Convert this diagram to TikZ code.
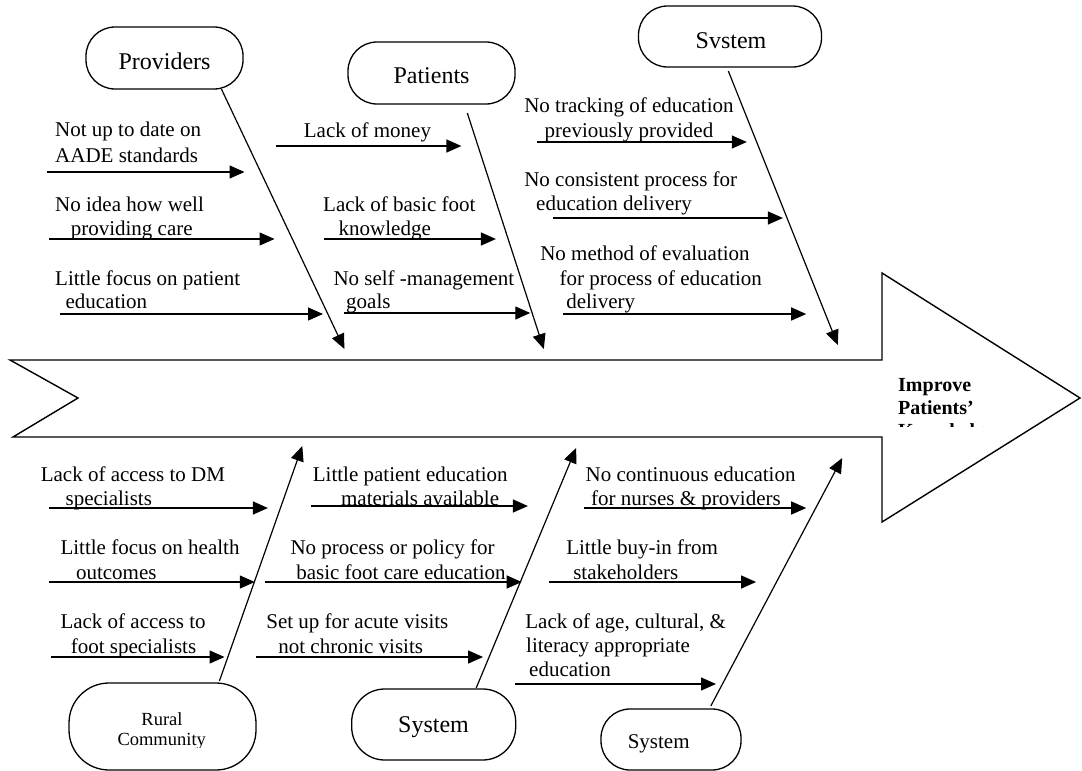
\documentclass[tikz,border=0pt]{standalone}
\usepackage{fontspec}
\setmainfont{Liberation Serif}
\usetikzlibrary{arrows.meta}
\begin{document}
\begin{tikzpicture}[x=1pt,y=-1pt,
  lbl/.style={inner sep=0pt, anchor=base west, font=\fontsize{21}{25}\selectfont},
  catbox/.style={draw, line width=1.3pt, inner sep=0pt},
  cattext/.style={inner sep=0pt, anchor=base, font=\fontsize{24}{28}\selectfont},
  cause/.style={line width=1.3pt, -{Triangle[length=15pt,width=13pt]}},
  bone/.style={line width=1.2pt, -{Triangle[length=15pt,width=13pt]}},
  body/.style={draw, line width=1.4pt, line join=miter}
]
\useasboundingbox (0,0) rectangle (1082,771);

% fish body / effect arrow
\draw[body] (10,360) -- (882,360) -- (882,273) -- (1080,398) -- (882,522)
  -- (882,437) -- (13,437) -- (78,398) -- cycle;
\begin{scope}
  \clip (890,360) rectangle (1000,426);
  \node[inner sep=0pt, anchor=base west, font=\fontsize{20}{23}\selectfont\bfseries] (eff1) at (898,391) {Improve};
  \node[inner sep=0pt, anchor=base west, font=\fontsize{20}{23}\selectfont\bfseries] (eff2) at (898,414) {Patients’};
  \node[inner sep=0pt, anchor=base west, font=\fontsize{20}{23}\selectfont\bfseries] (eff3) at (898,437) {Knowledge};
\end{scope}

% category boxes
\node[catbox, minimum width=157pt, minimum height=62pt, rounded corners=29pt] (prov) at (164.5,58) {};
\node[cattext] (provt) at (164.5,69) {Providers};
\node[catbox, minimum width=167pt, minimum height=62pt, rounded corners=29pt] (pat) at (431.5,73) {};
\node[cattext] (patt) at (431.5,83) {Patients};
\node[catbox, minimum width=183pt, minimum height=61pt, rounded corners=29pt] (sys1) at (730,36.5) {};
\node[cattext] (sys1t) at (731,48) {Svstem};

\node[catbox, minimum width=187pt, minimum height=87pt, rounded corners=40pt] (rural) at (162.5,726.5) {};
\begin{scope}
  \clip (100,700) rectangle (230,747.5);
  \node[inner sep=0pt, anchor=base, font=\fontsize{18.5}{20}\selectfont] (ruralt1) at (162,725) {Rural};
  \node[inner sep=0pt, anchor=base, font=\fontsize{18.5}{20}\selectfont] (ruralt2) at (161.7,745) {Community};
\end{scope}
\node[catbox, minimum width=164pt, minimum height=71pt, rounded corners=33pt] (sys2) at (433.7,724.5) {};
\node[cattext] (sys2t) at (433.5,732) {System};
\node[catbox, minimum width=140pt, minimum height=61pt, rounded corners=29pt] (sys3) at (671,739.5) {};
\node[inner sep=0pt, anchor=base, font=\fontsize{21}{25}\selectfont] (sys3t) at (658.7,748) {System};

% bones
\coordinate (b1s) at (221.4,89);  \coordinate (b1e) at (344.4,349);
\coordinate (b2s) at (467.3,113); \coordinate (b2e) at (543.8,349);
\coordinate (b3s) at (728.3,71);  \coordinate (b3e) at (837.8,345);
\coordinate (b4s) at (219.4,681); \coordinate (b4e) at (302.3,446);
\coordinate (b5s) at (476.2,688); \coordinate (b5e) at (576.1,448);
\coordinate (b6s) at (710.8,706); \coordinate (b6e) at (842.2,458);
\draw[bone] (b1s) -- (b1e);
\draw[bone] (b2s) -- (b2e);
\draw[bone] (b3s) -- (b3e);
\draw[bone] (b4s) -- (b4e);
\draw[bone] (b5s) -- (b5e);
\draw[bone] (b6s) -- (b6e);

% ---- top left: Providers
\node[lbl] (t1a) at (55,136) {Not up to date on};
\node[lbl] (t1b) at (55,162) {AADE standards};
\coordinate (a1s) at (46.5,172); \coordinate (a1e) at (244.5,172);
\draw[cause] (a1s) -- (a1e);
\node[lbl] (t2a) at (55,211) {No idea how well};
\node[lbl] (t2b) at (70.6,235) {providing care};
\coordinate (a2s) at (49,239); \coordinate (a2e) at (274.5,239);
\draw[cause] (a2s) -- (a2e);
\node[lbl] (t3a) at (55,285) {Little focus on patient};
\node[lbl] (t3b) at (65.4,308) {education};
\coordinate (a3s) at (60,314); \coordinate (a3e) at (323,314);
\draw[cause] (a3s) -- (a3e);

% ---- top middle: Patients
\node[lbl] (t4) at (303.7,137) {Lack of money};
\coordinate (a4s) at (275.5,146); \coordinate (a4e) at (461.4,146);
\draw[cause] (a4s) -- (a4e);
\node[lbl] (t5a) at (323,211) {Lack of basic foot};
\node[lbl] (t5b) at (338.5,235) {knowledge};
\coordinate (a5s) at (323.7,239); \coordinate (a5e) at (495.9,239);
\draw[cause] (a5s) -- (a5e);
\node[lbl] (t6a) at (333.3,285) {No self -management};
\node[lbl] (t6b) at (346,308) {goals};
\coordinate (a6s) at (344.4,313); \coordinate (a6e) at (530.3,313);
\draw[cause] (a6s) -- (a6e);

% ---- top right: System
\node[lbl] (t7a) at (524.1,112) {No tracking of education};
\node[lbl] (t7b) at (544.5,137) {previously provided};
\coordinate (a7s) at (537.1,142); \coordinate (a7e) at (746.8,142);
\draw[cause] (a7s) -- (a7e);
\node[lbl] (t8a) at (524.1,186) {No consistent process for};
\node[lbl] (t8b) at (536,210) {education delivery};
\coordinate (a8s) at (553.1,218); \coordinate (a8e) at (782.9,218);
\draw[cause] (a8s) -- (a8e);
\node[lbl] (t9a) at (540.1,260) {No method of evaluation};
\node[lbl] (t9b) at (559.4,285) {for process of education};
\node[lbl] (t9c) at (566.1,308) {delivery};
\coordinate (a9s) at (563.1,314); \coordinate (a9e) at (806.2,314);
\draw[cause] (a9s) -- (a9e);

% ---- bottom left: Rural Community
\node[lbl] (t10a) at (40.6,481) {Lack of access to DM};
\node[lbl] (t10b) at (65.4,505) {specialists};
\coordinate (a10s) at (48.9,508); \coordinate (a10e) at (267.9,508);
\draw[cause] (a10s) -- (a10e);
\node[lbl] (t11a) at (60.3,554) {Little focus on health};
\node[lbl] (t11b) at (75.8,579) {outcomes};
\coordinate (a11s) at (48.9,582); \coordinate (a11e) at (254.8,582);
\draw[cause] (a11s) -- (a11e);
\node[lbl] (t12a) at (60.3,628) {Lack of access to};
\node[lbl] (t12b) at (70.6,653) {foot specialists};
\coordinate (a12s) at (51,657); \coordinate (a12e) at (224.5,657);
\draw[cause] (a12s) -- (a12e);

% ---- bottom middle: System
\node[lbl] (t13a) at (312.7,481) {Little patient education};
\node[lbl] (t13b) at (340.9,505) {materials available};
\coordinate (a13s) at (311,506); \coordinate (a13e) at (527.9,506);
\draw[cause] (a13s) -- (a13e);
\node[lbl] (t14a) at (290.3,554) {No process or policy for};
\node[lbl] (t14b) at (296.1,579) {basic foot care education};
\coordinate (a14s) at (264.5,582); \coordinate (a14e) at (521.7,582);
\draw[cause] (a14s) -- (a14e);
\node[lbl] (t15a) at (266.2,628) {Set up for acute visits};
\node[lbl] (t15b) at (278.2,653) {not chronic visits};
\coordinate (a15s) at (255.5,657); \coordinate (a15e) at (483.1,657);
\draw[cause] (a15s) -- (a15e);

% ---- bottom right: System
\node[lbl] (t16a) at (585.4,481) {No continuous education};
\node[lbl] (t16b) at (591,505) {for nurses \& providers};
\coordinate (a16s) at (583.5,508); \coordinate (a16e) at (806.2,508);
\draw[cause] (a16s) -- (a16e);
\node[lbl] (t17a) at (566.1,554) {Little buy-in from};
\node[lbl] (t17b) at (573.1,579) {stakeholders};
\coordinate (a17s) at (549,582); \coordinate (a17e) at (756.1,582);
\draw[cause] (a17s) -- (a17e);
\node[lbl] (t18a) at (525.2,628) {Lack of age, cultural, \&};
\node[lbl] (t18b) at (526,652) {literacy appropriate};
\node[lbl] (t18c) at (529,676) {education};
\coordinate (a18s) at (514.8,684); \coordinate (a18e) at (716,684);
\draw[cause] (a18s) -- (a18e);
\end{tikzpicture}
\end{document}
